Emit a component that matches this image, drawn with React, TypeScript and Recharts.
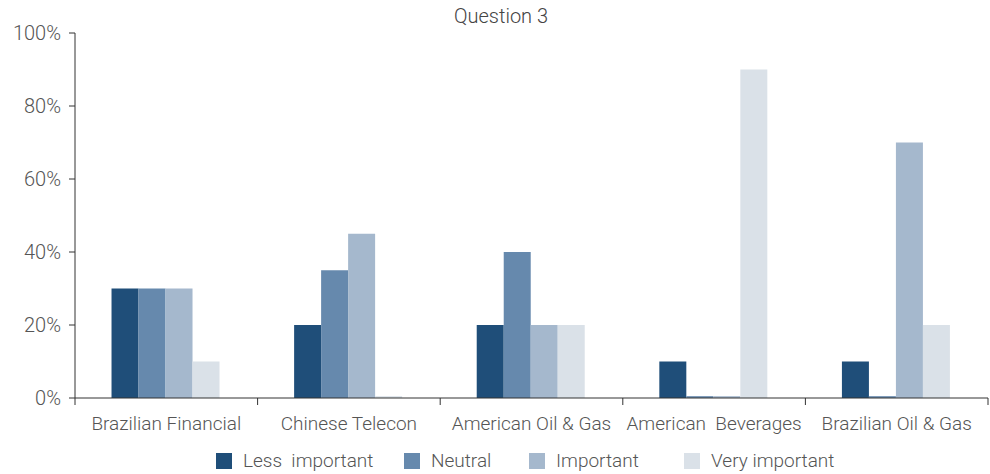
import { BarChart, Bar, XAxis, YAxis, Legend } from "recharts";

const categories = [
  "Brazilian Financial",
  "Chinese Telecon",
  "American Oil & Gas",
  "American  Beverages",
  "Brazilian Oil & Gas",
];
const lessImportant = [30, 20, 20, 10, 10];
const neutral = [30, 35, 40, 0.5, 0.5];
const important = [30, 45, 20, 0.5, 70];
const veryImportant = [10, 0.5, 20, 90, 20];
const yTicks = [0, 20, 40, 60, 80, 100];

const series = [
  { key: "less", name: "Less  important", color: "#1f4e79", width: 188 },
  { key: "neutral", name: "Neutral", color: "#6689ad", width: 125 },
  { key: "important", name: "Important", color: "#a5b8cd", width: 155 },
  { key: "very", name: "Very important", color: "#dae1e8", width: 170 },
];

const data = categories.map((c, i) => ({
  category: c,
  less: lessImportant[i],
  neutral: neutral[i],
  important: important[i],
  very: veryImportant[i],
}));

const W = 990;
const H = 474;
const LEFT = 75;
const RIGHT = 2;
const FONT = "Roboto, 'DejaVu Sans', sans-serif";
const band = (W - LEFT - RIGHT) / categories.length;

function XTick(props: any) {
  const { x, y, payload, index } = props;
  const left = x - band / 2;
  return (
    <g>
      <line x1={left} y1={y - 8} x2={left} y2={y - 1} stroke="#333" />
      {index === categories.length - 1 && (
        <line x1={left + band} y1={y - 8} x2={left + band} y2={y - 1} stroke="#333" />
      )}
      <text
        x={x}
        y={y + 24}
        textAnchor="middle"
        fill="#555"
        fontSize={19}
        fontWeight={300}
        fontFamily={FONT}
        style={{ whiteSpace: "pre" }}
      >
        {payload.value}
      </text>
    </g>
  );
}

function LegendBox() {
  return (
    <div style={{ display: "flex", justifyContent: "flex-start", paddingLeft: 216 }}>
      {series.map((s) => (
        <div key={s.key} style={{ display: "flex", alignItems: "center", width: s.width }}>
          <span style={{ width: 16, height: 16, background: s.color, display: "inline-block" }} />
          <span
            style={{
              marginLeft: 11,
              fontSize: 19,
              fontWeight: 300,
              color: "#555",
              fontFamily: FONT,
              whiteSpace: "pre",
            }}
          >
            {s.name}
          </span>
        </div>
      ))}
    </div>
  );
}

export default function App() {
  return (
    <div style={{ position: "relative", width: W, height: H, background: "#fff" }}>
      <style>{"body{margin:0}"}</style>
      <div
        style={{
          position: "absolute",
          top: 4,
          left: 0,
          width: 1002,
          textAlign: "center",
          fontSize: 20,
          fontWeight: 300,
          color: "#444",
          fontFamily: FONT,
        }}
      >
        Question 3
      </div>
      <BarChart
        width={W}
        height={H}
        data={data}
        margin={{ top: 33, right: RIGHT, left: 0, bottom: 2 }}
        barCategoryGap="20%"
        barGap={0}
      >
        <XAxis
          dataKey="category"
          axisLine={{ stroke: "#333" }}
          tickLine={false}
          tick={<XTick />}
          interval={0}
          height={51}
        />
        <YAxis
          width={LEFT}
          domain={[0, 100]}
          ticks={yTicks}
          tickFormatter={(v) => `${v}%`}
          axisLine={{ stroke: "#333" }}
          tickLine={{ stroke: "#333" }}
          tickSize={6}
          tickMargin={8}
          tick={{ fill: "#555", fontSize: 20, fontWeight: 300, fontFamily: FONT }}
        />
        <Legend verticalAlign="bottom" content={<LegendBox />} />
        {series.map((s) => (
          <Bar key={s.key} dataKey={s.key} name={s.name} fill={s.color} isAnimationActive={false} />
        ))}
      </BarChart>
    </div>
  );
}
